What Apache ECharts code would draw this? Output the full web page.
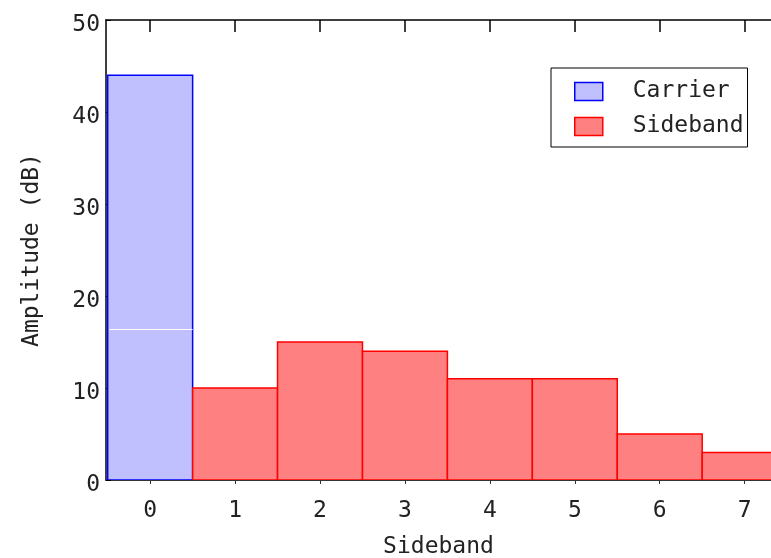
<!DOCTYPE html>
<html>
<head>
<meta charset="utf-8">
<script src="https://cdn.jsdelivr.net/npm/echarts@6/dist/echarts.min.js"></script>
<style>
  html, body { margin: 0; padding: 0; background: #fff; }
  #chart { width: 771px; height: 558px; }
</style>
</head>
<body>
<div id="chart"></div>
<script>
// sideband index (x) and amplitude in dB
const xTicks = [0, 1, 2, 3, 4, 5, 6, 7];
const carrierX = [0];
const carrierAmp = [44];
const sidebandX = [1, 2, 3, 4, 5, 6, 7];
const sidebandAmp = [10, 15, 14, 11, 11, 5, 3];
// faint white seam visible inside the carrier bar
const carrierSeam = 16.4;

const FONT = 'DejaVu Sans Mono';
const carrierStyle = { fill: '#c0c0ff', stroke: '#0000ff', lineWidth: 1.5 };
const sidebandStyle = { fill: '#ff8080', stroke: '#ff0000', lineWidth: 1.5 };

const chart = echarts.init(document.getElementById('chart'));

// each bar spans x-0.5 .. x+0.5 in axis units
function boxRenderer(style) {
    return function (params, api) {
        const x = api.value(0), y = api.value(1);
        const p0 = api.coord([x - 0.5, y]);
        const p1 = api.coord([x + 0.5, 0]);
        return {
            type: 'rect',
            shape: { x: p0[0], y: p0[1], width: p1[0] - p0[0], height: p1[1] - p0[1] },
            style: style
        };
    };
}

const option = {
    animation: false,
    grid: { left: 106, top: 20, right: 0, bottom: 78, containLabel: false, outerBoundsMode: 'none' },
    legend: {
        orient: 'vertical',
        left: 551,
        top: 68,
        icon: 'rect',
        itemWidth: 28,
        itemHeight: 18,
        itemGap: 12,
        padding: [12, 4, 9, 23],
        borderColor: '#000',
        borderWidth: 1,
        textStyle: { fontFamily: FONT, fontSize: 23, color: '#222', padding: [0, 0, 0, 25] },
        data: [
            { name: 'Carrier', itemStyle: { color: '#c0c0ff', borderColor: '#0000ff', borderWidth: 1.5 } },
            { name: 'Sideband', itemStyle: { color: '#ff8080', borderColor: '#ff0000', borderWidth: 1.5 } }
        ]
    },
    xAxis: [
        {
            type: 'value',
            min: -0.52,
            max: 7.31,
            name: 'Sideband',
            nameLocation: 'middle',
            nameGap: 56,
            nameTextStyle: { fontFamily: FONT, fontSize: 23, color: '#222' },
            axisLine: { onZero: false, lineStyle: { color: '#333', width: 2 } },
            axisTick: { show: true, inside: false, length: 4, customValues: xTicks, lineStyle: { color: '#333' } },
            axisLabel: { customValues: xTicks, margin: 20, fontFamily: FONT, fontSize: 23, color: '#222' },
            splitLine: { show: false }
        },
        {
            type: 'value',
            position: 'top',
            min: -0.52,
            max: 7.31,
            axisLine: { show: true, onZero: false, lineStyle: { color: '#000', width: 1.5 } },
            axisTick: { show: true, inside: true, length: 12, customValues: xTicks, lineStyle: { color: '#000', width: 1.5 } },
            axisLabel: { show: false },
            splitLine: { show: false }
        }
    ],
    yAxis: {
        type: 'value',
        min: 0,
        max: 50,
        interval: 10,
        name: 'Amplitude (dB)',
        nameLocation: 'middle',
        nameGap: 62,
        nameTextStyle: { fontFamily: FONT, fontSize: 23, color: '#222' },
        axisLine: { show: true, onZero: false, lineStyle: { color: '#000', width: 1.5 } },
        axisTick: { show: true, inside: true, length: 5, lineStyle: { color: '#000' } },
        axisLabel: { margin: 6, verticalAlign: 'top', lineHeight: 11, fontFamily: FONT, fontSize: 23, color: '#222' },
        splitLine: { show: false }
    },
    series: [
        {
            name: 'Carrier',
            type: 'custom',
            clip: true,
            itemStyle: { color: '#c0c0ff', borderColor: '#0000ff' },
            renderItem: boxRenderer(carrierStyle),
            encode: { x: 0, y: 1 },
            data: carrierX.map((x, i) => [x, carrierAmp[i]]),
            markLine: {
                silent: true,
                symbol: 'none',
                label: { show: false },
                lineStyle: { color: '#ffffff', type: 'solid', width: 1 },
                data: [[{ coord: [carrierX[0] - 0.48, carrierSeam] }, { coord: [carrierX[0] + 0.5, carrierSeam] }]]
            }
        },
        {
            name: 'Sideband',
            type: 'custom',
            clip: true,
            itemStyle: { color: '#ff8080', borderColor: '#ff0000' },
            renderItem: boxRenderer(sidebandStyle),
            encode: { x: 0, y: 1 },
            data: sidebandX.map((x, i) => [x, sidebandAmp[i]])
        }
    ]
};

chart.setOption(option);
</script>
</body>
</html>
